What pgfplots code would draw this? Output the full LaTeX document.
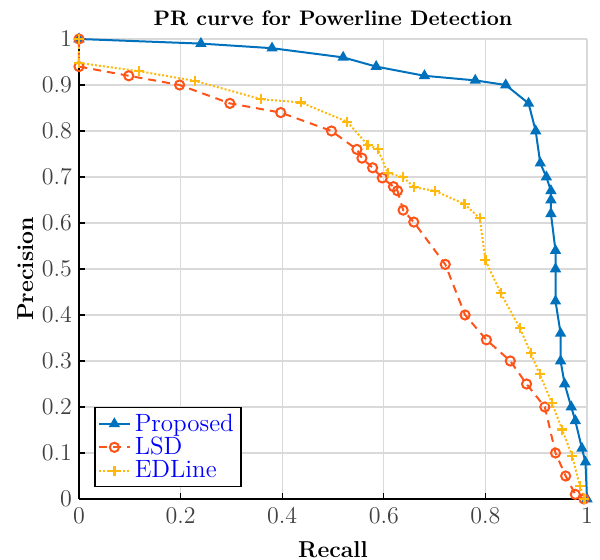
\documentclass[border=0pt]{standalone}
\usepackage{pgfplots}
\pgfplotsset{compat=1.18}
\definecolor{cBlue}{rgb}{0,0.447,0.741}
\definecolor{cRed}{rgb}{1,0.33,0.1}
\definecolor{cYel}{rgb}{1,0.72,0.05}
\begin{document}
\begin{tikzpicture}
\path[use as bounding box] (-39.5pt,-30.5pt) rectangle (260.5pt,249.5pt);
\begin{axis}[
  scale only axis, width=254pt, height=230pt,
  xmin=0, xmax=1, ymin=0, ymax=1, clip=false,
  axis lines*=left,
  axis line style={line width=1pt, black},
  grid=major, grid style={black!15, line width=0.6pt},
  xtick={0,0.2,0.4,0.6,0.8,1},
  ytick={0,0.1,0.2,0.3,0.4,0.5,0.6,0.7,0.8,0.9,1},
  tick align=inside, major tick length=3pt,
  tick style={black, line width=0.6pt},
  ticklabel style={font=\fontsize{12}{13}\selectfont, text=black!75},
  xticklabel style={yshift=-1pt},
  title={\textbf{PR curve for Powerline Detection}},
  title style={font=\fontsize{10.5}{12}\selectfont, yshift=-3pt},
  xlabel={\textbf{Recall}}, ylabel={\textbf{Precision}},
  label style={font=\fontsize{11.5}{12}\selectfont},
  xlabel style={yshift=-2pt}, ylabel style={yshift=-2.5pt},
  legend cell align=left,
  legend style={at={(0.03,0.025)}, anchor=south west, draw=black, line width=0.8pt,
    font=\fontsize{12.5}{13}\selectfont, text=blue, inner sep=1.5pt, row sep=-1.5pt,
    nodes={inner ysep=1.5pt, inner xsep=2pt}},
  legend image code/.code={\draw[mark repeat=2,mark phase=2] plot coordinates {(0cm,0cm) (0.27cm,0cm) (0.54cm,0cm)};},
]
\addplot[cBlue, line width=1pt, mark=triangle*, mark size=2.3pt, mark options={solid}] coordinates {
(0,1) (0.24,0.99) (0.38,0.98) (0.52,0.96) (0.585,0.94) (0.68,0.92) (0.78,0.91) (0.84,0.90)
(0.885,0.86) (0.899,0.80) (0.908,0.73) (0.92,0.70) (0.929,0.67) (0.929,0.65) (0.929,0.62)
(0.938,0.54) (0.938,0.50) (0.938,0.43) (0.948,0.36) (0.948,0.30) (0.956,0.25) (0.969,0.20)
(0.977,0.17) (0.99,0.11) (0.997,0.08) (1.0,0.0)
};
\addlegendentry{Proposed}
\addplot[cRed, line width=1pt, dash pattern=on 4pt off 3pt, mark=o, mark size=2.3pt, mark options={solid, fill=white}] coordinates {
(0,1) (0,0.94) (0.098,0.92) (0.198,0.90) (0.297,0.86) (0.397,0.84) (0.497,0.80)
(0.547,0.76) (0.557,0.741) (0.578,0.72) (0.597,0.698) (0.619,0.679) (0.627,0.67)
(0.638,0.628) (0.659,0.602) (0.721,0.51) (0.76,0.40) (0.802,0.346) (0.849,0.30)
(0.881,0.25) (0.917,0.20) (0.938,0.10) (0.958,0.05) (0.977,0.01) (0.994,0.0)
};
\addlegendentry{LSD}
\addplot[cYel, line width=1pt, densely dotted, mark=+, mark size=2.5pt, mark options={solid, line width=1.1pt}] coordinates {
(0,1) (0,0.948) (0.118,0.93) (0.228,0.909) (0.359,0.869) (0.437,0.862) (0.528,0.82)
(0.568,0.77) (0.588,0.761) (0.608,0.708) (0.638,0.70) (0.659,0.678) (0.70,0.67)
(0.759,0.641) (0.789,0.61) (0.80,0.519) (0.83,0.448) (0.868,0.371) (0.889,0.318)
(0.907,0.271) (0.931,0.209) (0.951,0.151) (0.971,0.093) (0.986,0.028) (0.995,0.0)
};
\addlegendentry{EDLine}
\end{axis}
\end{tikzpicture}
\end{document}
